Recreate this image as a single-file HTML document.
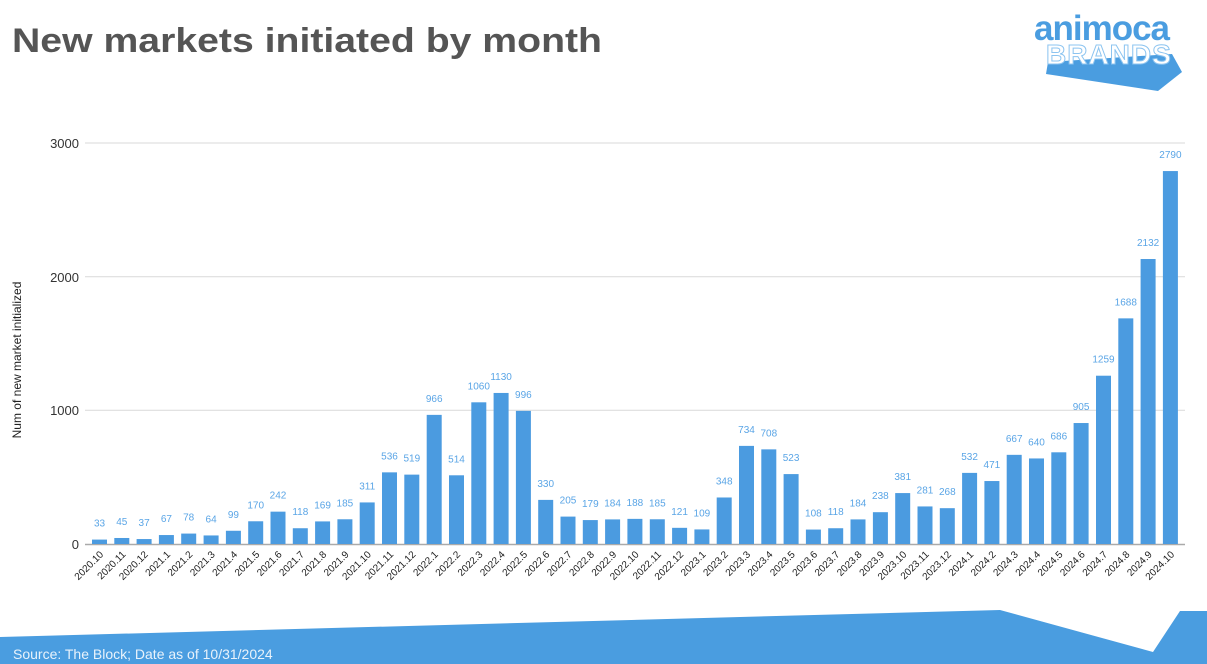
<!DOCTYPE html>
<html><head><meta charset="utf-8"><style>
html,body{margin:0;padding:0;background:#fff;}
svg{display:block;font-family:"Liberation Sans",sans-serif;}
</style></head><body>
<svg width="1207" height="664" viewBox="0 0 1207 664">
<text x="12" y="52" font-size="34" font-weight="bold" fill="#555" textLength="590" lengthAdjust="spacingAndGlyphs">New markets initiated by month</text>
<!-- logo -->
<polygon points="1048,62 1172,54 1182,72 1158,91 1046,74" fill="#4a9de0"/>
<text x="1034" y="40" font-size="35" font-weight="bold" fill="#4a9de0" letter-spacing="-1">animoca</text>
<text x="1046" y="64" font-size="28" font-weight="bold" fill="#fff" stroke="#8cc4f0" stroke-width="1" letter-spacing="1">BRANDS</text>
<!-- grid -->
<g stroke="#d9d9d9" stroke-width="1">
<line x1="85" y1="143" x2="1185" y2="143"/>
<line x1="85" y1="276.7" x2="1185" y2="276.7"/>
<line x1="85" y1="410.3" x2="1185" y2="410.3"/>
</g>
<line x1="85" y1="544.5" x2="1185" y2="544.5" stroke="#aaa" stroke-width="1.5"/>
<g font-size="13" fill="#333" text-anchor="end">
<text x="79" y="148">3000</text><text x="79" y="282">2000</text><text x="79" y="415">1000</text><text x="79" y="549">0</text>
</g>
<text transform="translate(21,360) rotate(-90)" font-size="12" fill="#222" text-anchor="middle">Num of new market initialized</text>
<!-- bars -->
<g fill="#4b9be0" transform="translate(0,544) scale(1,-0.13367)">
<rect x="92" width="15" height="33"/><rect x="114.3" width="15" height="45"/><rect x="136.6" width="15" height="37"/><rect x="158.9" width="15" height="67"/><rect x="181.2" width="15" height="78"/><rect x="203.6" width="15" height="64"/><rect x="225.9" width="15" height="99"/><rect x="248.2" width="15" height="170"/><rect x="270.5" width="15" height="242"/><rect x="292.8" width="15" height="118"/><rect x="315.1" width="15" height="169"/><rect x="337.4" width="15" height="185"/><rect x="359.7" width="15" height="311"/><rect x="382" width="15" height="536"/><rect x="404.3" width="15" height="519"/><rect x="426.7" width="15" height="966"/><rect x="449" width="15" height="514"/><rect x="471.3" width="15" height="1060"/><rect x="493.6" width="15" height="1130"/><rect x="515.9" width="15" height="996"/><rect x="538.2" width="15" height="330"/><rect x="560.5" width="15" height="205"/><rect x="582.8" width="15" height="179"/><rect x="605.1" width="15" height="184"/><rect x="627.4" width="15" height="188"/><rect x="649.8" width="15" height="185"/><rect x="672.1" width="15" height="121"/><rect x="694.4" width="15" height="109"/><rect x="716.7" width="15" height="348"/><rect x="739" width="15" height="734"/><rect x="761.3" width="15" height="708"/><rect x="783.6" width="15" height="523"/><rect x="805.9" width="15" height="108"/><rect x="828.2" width="15" height="118"/><rect x="850.5" width="15" height="184"/><rect x="872.9" width="15" height="238"/><rect x="895.2" width="15" height="381"/><rect x="917.5" width="15" height="281"/><rect x="939.8" width="15" height="268"/><rect x="962.1" width="15" height="532"/><rect x="984.4" width="15" height="471"/><rect x="1006.7" width="15" height="667"/><rect x="1029" width="15" height="640"/><rect x="1051.3" width="15" height="686"/><rect x="1073.6" width="15" height="905"/><rect x="1096" width="15" height="1259"/><rect x="1118.3" width="15" height="1688"/><rect x="1140.6" width="15" height="2132"/><rect x="1162.9" width="15" height="2790"/>
</g>
<!-- value labels -->
<g font-size="10" fill="#5aa5e6" text-anchor="middle" transform="translate(0,-5)">
<text x="99.5" y="531.6">33</text><text x="121.8" y="530">45</text><text x="144.1" y="531">37</text><text x="166.4" y="527">67</text><text x="188.7" y="525.6">78</text><text x="211.1" y="527.4">64</text><text x="233.4" y="522.8">99</text><text x="255.7" y="513.3">170</text><text x="278" y="503.7">242</text><text x="300.3" y="520.2">118</text><text x="322.6" y="513.4">169</text><text x="344.9" y="511.3">185</text><text x="367.2" y="494.4">311</text><text x="389.5" y="464.4">536</text><text x="411.8" y="466.6">519</text><text x="434.2" y="406.9">966</text><text x="456.5" y="467.3">514</text><text x="478.8" y="394.3">1060</text><text x="501.1" y="385">1130</text><text x="523.4" y="402.9">996</text><text x="545.7" y="491.9">330</text><text x="568" y="508.6">205</text><text x="590.3" y="512.1">179</text><text x="612.6" y="511.4">184</text><text x="634.9" y="510.9">188</text><text x="657.3" y="511.3">185</text><text x="679.6" y="519.8">121</text><text x="701.9" y="521.4">109</text><text x="724.2" y="489.5">348</text><text x="746.5" y="437.9">734</text><text x="768.8" y="441.4">708</text><text x="791.1" y="466.1">523</text><text x="813.4" y="521.6">108</text><text x="835.7" y="520.2">118</text><text x="858" y="511.4">184</text><text x="880.4" y="504.2">238</text><text x="902.7" y="485.1">381</text><text x="925" y="498.4">281</text><text x="947.3" y="500.2">268</text><text x="969.6" y="464.9">532</text><text x="991.9" y="473">471</text><text x="1014.2" y="446.8">667</text><text x="1036.5" y="450.5">640</text><text x="1058.8" y="444.3">686</text><text x="1081.1" y="415">905</text><text x="1103.5" y="367.7">1259</text><text x="1125.8" y="310.4">1688</text><text x="1148.1" y="251">2132</text><text x="1170.4" y="163.1">2790</text>
</g>
<!-- x labels -->
<g font-size="10" fill="#222" text-anchor="end">
<text transform="translate(104,555) rotate(-45)">2020.10</text><text transform="translate(126.3,555) rotate(-45)">2020.11</text><text transform="translate(148.6,555) rotate(-45)">2020.12</text><text transform="translate(170.9,555) rotate(-45)">2021.1</text><text transform="translate(193.2,555) rotate(-45)">2021.2</text><text transform="translate(215.6,555) rotate(-45)">2021.3</text><text transform="translate(237.9,555) rotate(-45)">2021.4</text><text transform="translate(260.2,555) rotate(-45)">2021.5</text><text transform="translate(282.5,555) rotate(-45)">2021.6</text><text transform="translate(304.8,555) rotate(-45)">2021.7</text><text transform="translate(327.1,555) rotate(-45)">2021.8</text><text transform="translate(349.4,555) rotate(-45)">2021.9</text><text transform="translate(371.7,555) rotate(-45)">2021.10</text><text transform="translate(394,555) rotate(-45)">2021.11</text><text transform="translate(416.3,555) rotate(-45)">2021.12</text><text transform="translate(438.7,555) rotate(-45)">2022.1</text><text transform="translate(461,555) rotate(-45)">2022.2</text><text transform="translate(483.3,555) rotate(-45)">2022.3</text><text transform="translate(505.6,555) rotate(-45)">2022.4</text><text transform="translate(527.9,555) rotate(-45)">2022.5</text><text transform="translate(550.2,555) rotate(-45)">2022.6</text><text transform="translate(572.5,555) rotate(-45)">2022.7</text><text transform="translate(594.8,555) rotate(-45)">2022.8</text><text transform="translate(617.1,555) rotate(-45)">2022.9</text><text transform="translate(639.4,555) rotate(-45)">2022.10</text><text transform="translate(661.8,555) rotate(-45)">2022.11</text><text transform="translate(684.1,555) rotate(-45)">2022.12</text><text transform="translate(706.4,555) rotate(-45)">2023.1</text><text transform="translate(728.7,555) rotate(-45)">2023.2</text><text transform="translate(751,555) rotate(-45)">2023.3</text><text transform="translate(773.3,555) rotate(-45)">2023.4</text><text transform="translate(795.6,555) rotate(-45)">2023.5</text><text transform="translate(817.9,555) rotate(-45)">2023.6</text><text transform="translate(840.2,555) rotate(-45)">2023.7</text><text transform="translate(862.5,555) rotate(-45)">2023.8</text><text transform="translate(884.9,555) rotate(-45)">2023.9</text><text transform="translate(907.2,555) rotate(-45)">2023.10</text><text transform="translate(929.5,555) rotate(-45)">2023.11</text><text transform="translate(951.8,555) rotate(-45)">2023.12</text><text transform="translate(974.1,555) rotate(-45)">2024.1</text><text transform="translate(996.4,555) rotate(-45)">2024.2</text><text transform="translate(1018.7,555) rotate(-45)">2024.3</text><text transform="translate(1041,555) rotate(-45)">2024.4</text><text transform="translate(1063.3,555) rotate(-45)">2024.5</text><text transform="translate(1085.6,555) rotate(-45)">2024.6</text><text transform="translate(1108,555) rotate(-45)">2024.7</text><text transform="translate(1130.3,555) rotate(-45)">2024.8</text><text transform="translate(1152.6,555) rotate(-45)">2024.9</text><text transform="translate(1174.9,555) rotate(-45)">2024.10</text>
</g>
<!-- footer -->
<polygon points="0,637 1000,610 1153,652 1180,611 1207,611 1207,664 0,664" fill="#4a9de0"/>
<text x="13" y="659" font-size="14" fill="#e8f2fb">Source: The Block; Date as of 10/31/2024</text>
</svg>
</body></html>
